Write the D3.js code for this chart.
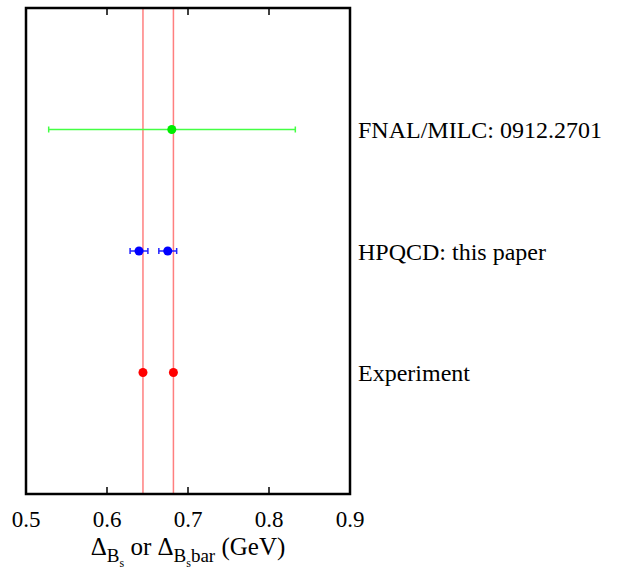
<!DOCTYPE html>
<html lang="en">
<head>
<meta charset="UTF-8">
<title>Delta Bs comparison</title>
<style>
    body { margin: 0; background: #fff; }
</style>
</head>
<body>
<svg id="plot"></svg>
<script src="https://d3js.org/d3.v7.min.js"></script>
<script>
// rows from top to bottom
const labels = ["FNAL/MILC: 0912.2701", "HPQCD: this paper", "Experiment"];
const rows = [3, 2, 1];

// points: row, value, error range
const fnal = [{row: 3, x: 0.680, lo: 0.528, hi: 0.8325}];
const hpqcd = [
    {row: 2, x: 0.6395, lo: 0.6285, hi: 0.6505},
    {row: 2, x: 0.675, lo: 0.664, hi: 0.686}
];
const expt = [
    {row: 1, x: 0.6444},
    {row: 1, x: 0.682}
];
const exptLines = [0.6444, 0.682];
const xTicks = [0.5, 0.6, 0.7, 0.8, 0.9];

const FONT = "Liberation Serif";
const W = 623, H = 571;
const margin = {top: 8, right: 273, bottom: 77, left: 26};
const width = W - margin.left - margin.right;
const height = H - margin.top - margin.bottom;

const svg = d3.select("#plot").attr("width", W).attr("height", H);
const g = svg.append("g")
    .attr("transform", "translate(" + margin.left + "," + margin.top + ")");

const x = d3.scaleLinear().domain([0.5, 0.9]).range([0, width]);
const y = d3.scaleLinear().domain([0, 4]).range([height, 0]);

// experimental values
g.selectAll("line.expt").data(exptLines).enter()
    .append("line")
    .attr("x1", d => x(d)).attr("x2", d => x(d))
    .attr("y1", 0).attr("y2", height)
    .attr("stroke", "#ff7f7f").attr("stroke-width", 1.5);

// ticks inside frame, top and bottom
const inner = xTicks.slice(1, -1);
g.selectAll("line.tb").data(inner).enter()
    .append("line")
    .attr("x1", d => x(d)).attr("x2", d => x(d))
    .attr("y1", height).attr("y2", height - 7)
    .attr("stroke", "#000").attr("stroke-width", 1.5);
g.selectAll("line.tt").data(inner).enter()
    .append("line")
    .attr("x1", d => x(d)).attr("x2", d => x(d))
    .attr("y1", 0).attr("y2", 7)
    .attr("stroke", "#000").attr("stroke-width", 1.5);

g.selectAll("text.tick").data(xTicks).enter()
    .append("text")
    .attr("x", d => x(d))
    .attr("y", height + 33)
    .attr("text-anchor", "middle")
    .attr("font-family", FONT)
    .attr("font-size", 23)
    .text(d => d3.format(".1f")(d));

function errorBars(data, colour) {
    const cap = 3;
    data.forEach(d => {
        g.append("line")
            .attr("x1", x(d.lo)).attr("x2", x(d.hi))
            .attr("y1", y(d.row)).attr("y2", y(d.row))
            .attr("stroke", colour).attr("stroke-width", 1.5);
        [d.lo, d.hi].forEach(v => {
            g.append("line")
                .attr("x1", x(v)).attr("x2", x(v))
                .attr("y1", y(d.row) - cap).attr("y2", y(d.row) + cap)
                .attr("stroke", colour).attr("stroke-width", 1.5);
        });
    });
}

function points(data, colour) {
    g.selectAll(null).data(data).enter()
        .append("circle")
        .attr("cx", d => x(d.x))
        .attr("cy", d => y(d.row))
        .attr("r", 4.5)
        .attr("fill", colour);
}

errorBars(fnal, "#44ff44");
points(fnal, "#00ee00");
errorBars(hpqcd, "#2222ff");
points(hpqcd, "#0000ff");
points(expt, "#ff0000");

// frame
g.append("rect")
    .attr("x", 0).attr("y", 0)
    .attr("width", width).attr("height", height)
    .attr("fill", "none").attr("stroke", "#000").attr("stroke-width", 2.5);

// row labels
g.selectAll("text.lab").data(labels).enter()
    .append("text")
    .attr("x", width + 8)
    .attr("y", (d, i) => y(rows[i]) + 8.5)
    .attr("font-family", FONT)
    .attr("font-size", 24)
    .text(d => d);

// axis title
const t = svg.append("text")
    .attr("x", margin.left + x(0.7))
    .attr("y", 555)
    .attr("text-anchor", "middle")
    .attr("font-family", FONT)
    .attr("font-size", 25);
t.append("tspan").text("\u0394");
t.append("tspan").attr("dy", 7).attr("font-size", 19).text("B");
t.append("tspan").attr("dy", 5).attr("font-size", 12).text("s");
t.append("tspan").attr("dy", -12).text(" or \u0394");
t.append("tspan").attr("dy", 7).attr("font-size", 19).text("B");
t.append("tspan").attr("dy", 5).attr("font-size", 12).text("s");
t.append("tspan").attr("dy", -5).attr("font-size", 19).text("bar");
t.append("tspan").attr("dy", -7).text(" (GeV)");
</script>
</body>
</html>
